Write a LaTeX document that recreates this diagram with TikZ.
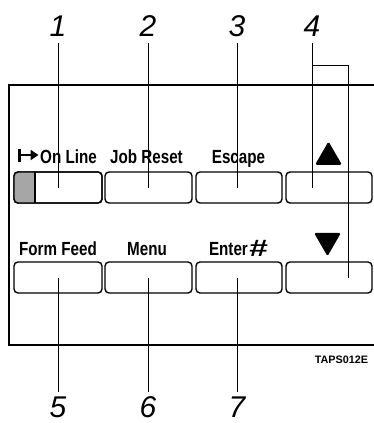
\documentclass[tikz,border=0pt]{standalone}
\usepackage{fontspec}
\usepackage{graphicx}
\setmainfont{Liberation Sans}
\newfontfamily\keyfont[FakeStretch=0.8]{Liberation Sans}
\usetikzlibrary{arrows.meta,shapes.geometric}
\tikzset{
  key/.style={draw,line width=1.4pt,rounded corners=4pt,outer sep=0pt,inner sep=0pt,
    minimum width=86pt,minimum height=31pt},
  klabel/.style={font=\keyfont\bfseries\fontsize{19}{19}\selectfont,inner sep=0pt,anchor=base},
  num/.style={font=\itshape\fontsize{30}{30}\selectfont,inner sep=1pt},
  lead/.style={line width=0.9pt},
  tri/.style={regular polygon,regular polygon sides=3,fill=black,inner sep=0pt,
    minimum size=31pt,rounded corners=1.5pt},
}
\begin{document}
\begin{tikzpicture}[x=1pt,y=-1pt]
\useasboundingbox (0,0) rectangle (374,423);

% panel
\draw[line width=1.1pt] (374,85) -- (9,85) -- (9,345) -- (374,345);

% keys, upper row
\node[key,minimum width=88pt] (online) at (58,187.5) {};
\node[key,minimum width=87pt] (jobreset) at (148.5,187.5) {};
\node[key] (escape) at (239,187.5) {};
\node[key] (up) at (329,187.5) {};
% keys, lower row
\node[key,minimum width=88pt] (formfeed) at (58,277.5) {};
\node[key,minimum width=87pt] (menu) at (148.5,277.5) {};
\node[key] (enter) at (239,277.5) {};
\node[key] (down) at (329,277.5) {};

% lamp on the On Line key
\begin{scope}
\clip (online.south west) rectangle ([xshift=21pt]online.north west);
\fill[gray!70,rounded corners=4pt] (online.south west) rectangle (online.north east);
\end{scope}
\draw[line width=1.4pt] ([xshift=21pt]online.north west) -- ([xshift=21pt]online.south west);
\draw[line width=1.4pt,rounded corners=4pt] (online.south west) rectangle (online.north east);

% key labels
\node[klabel] (lonline) at (68.5,163) {On Line};
\coordinate (bar) at (19.5,155);
\draw[line width=3pt] (19.5,148.5) -- (19.5,161.5);
\draw[line width=1.8pt,-{Triangle[length=8pt,width=10pt]}]
  (bar) -- ([xshift=-1.5pt]lonline.west |- bar);
\node[klabel] (ljobreset) at (146.5,163) {Job Reset};
\node[klabel] (lescape) at (238.5,163) {Escape};
\node[tri] (lup) at (328.5,157) {};
\node[klabel] (lformfeed) at (58,255) {Form Feed};
\node[klabel] (lmenu) at (147,255) {Menu};
\node[klabel] (lenter) at (238.5,255) {Enter\kern1.5pt\raisebox{-1pt}{\scalebox{2.2}[1.25]{\#}}};
\node[tri,shape border rotate=180] (ldown) at (327.5,240.7) {};

\node[font=\bfseries\fontsize{10.8}{11}\selectfont,inner sep=0pt] (code) at (341.5,360) {TAPS012E};

% callouts
\node[num] (n1) at (58,26) {1};
\node[num] (n2) at (148,26) {2};
\node[num] (n3) at (237,26) {3};
\node[num] (n4) at (312,26) {4};
\node[num] (n5) at (58,407.5) {5};
\node[num] (n6) at (148,407.5) {6};
\node[num] (n7) at (237,407.5) {7};

\draw[lead,shorten <=5pt] (n1.south) -- (n1 |- online.center);
\draw[lead,shorten <=5pt] (n2.south) -- (n2 |- jobreset.center);
\draw[lead,shorten <=5pt] (n3.south) -- (n3 |- escape.center);
\draw[lead,shorten <=5pt] (n4.south) -- (n4 |- up.center);
\coordinate (k4) at (312,65);
\coordinate (k4e) at (348,277.5);
\draw[lead] (k4) -| (k4e);

\draw[lead,shorten <=4pt] (n5.north) -- (n5 |- formfeed.center);
\draw[lead,shorten <=4pt] (n6.north) -- (n6 |- menu.center);
\draw[lead,shorten <=4pt] (n7.north) -- (n7 |- enter.center);

\end{tikzpicture}
\end{document}
